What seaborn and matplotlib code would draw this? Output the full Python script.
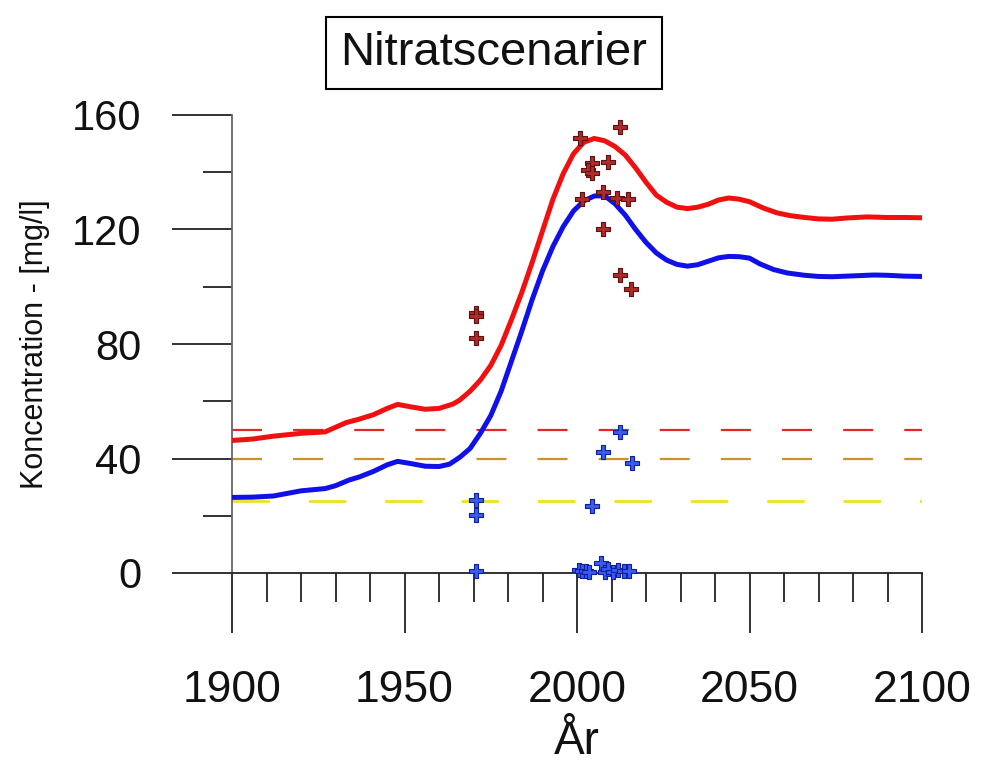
import matplotlib
matplotlib.use("Agg")
import matplotlib.pyplot as plt
import seaborn as sns
import pandas as pd

# ---------------- data ----------------
title_text = "Nitratscenarier"
x_label = "År"
y_label = "Koncentration - [mg/l]"

x_major = [1900, 1950, 2000, 2050, 2100]
x_minor = list(range(1900, 2101, 10))
y_major = [0, 40, 80, 120, 160]
y_minor = [20, 60, 100, 140]

red_years = [1900, 1906, 1912, 1920, 1927, 1933, 1937, 1941, 1945, 1948, 1952, 1956,
             1960, 1964, 1966, 1969, 1972, 1975, 1978, 1981, 1984, 1987, 1990, 1993,
             1996, 1999, 2002, 2005, 2008, 2011, 2014, 2017, 2020, 2023, 2026, 2029,
             2032, 2035, 2038, 2041, 2044, 2047, 2050, 2054, 2058, 2062, 2066, 2070,
             2074, 2078, 2084, 2090, 2095, 2100]
red_values = [46.3, 46.8, 47.8, 48.8, 49.3, 52.5, 53.8, 55.3, 57.5, 58.9, 58.0, 57.2,
              57.5, 59.0, 60.4, 63.5, 67.4, 72.5, 79.5, 88.5, 98.0, 108.5, 119.5, 130.5,
              139.5, 146.5, 150.5, 151.8, 151.0, 149.0, 146.0, 141.5, 136.5, 132.0, 129.5, 127.8,
              127.3, 127.8, 128.8, 130.3, 131.0, 130.6, 129.7, 127.5, 125.8, 124.8, 124.2, 123.7,
              123.6, 124.0, 124.4, 124.2, 124.2, 124.1]

blue_years = [1900, 1906, 1912, 1916, 1920, 1927, 1930, 1934, 1937, 1941, 1945, 1948,
              1952, 1956, 1960, 1963, 1966, 1969, 1972, 1975, 1978, 1981, 1984, 1987,
              1990, 1993, 1996, 1999, 2002, 2005, 2008, 2011, 2014, 2017, 2020, 2023,
              2026, 2029, 2032, 2035, 2038, 2041, 2044, 2047, 2050, 2053, 2057, 2061,
              2066, 2070, 2074, 2080, 2086, 2090, 2095, 2100]
blue_values = [26.4, 26.5, 26.9, 27.8, 28.7, 29.5, 30.5, 32.5, 33.6, 35.5, 37.8, 39.0,
               38.2, 37.3, 37.2, 38.0, 40.4, 43.5, 48.8, 55.0, 63.5, 74.0, 84.5, 95.5,
               105.5, 114.0, 121.0, 126.5, 130.0, 131.7, 131.8, 129.0, 125.0, 120.0, 115.5, 111.8,
               109.3, 107.8, 107.2, 107.7, 108.9, 110.1, 110.6, 110.5, 110.0, 108.0, 106.0, 104.8,
               104.0, 103.6, 103.5, 103.8, 104.1, 104.0, 103.7, 103.6]

red_obs_years = [1970.7, 1970.7, 1970.7, 2000.9, 2012.5, 2004.3, 2009.1, 2003.3, 2004.3,
                 2001.4, 2007.6, 2011.5, 2014.9, 2007.4, 2012.5, 2015.7]
red_obs_values = [91.0, 89.8, 82.0, 151.8, 155.7, 143.3, 143.7, 140.8, 139.9,
                  130.5, 133.2, 130.9, 130.5, 120.1, 104.1, 99.1]

blue_obs_years = [1970.7, 1970.7, 1970.7, 2012.5, 2007.5, 2016.0, 2004.3,
                  2000.5, 2001.5, 2002.5, 2003.5, 2007.0, 2008.0, 2009.0, 2010.5,
                  2012.0, 2013.5, 2015.0]
blue_obs_values = [25.4, 20.2, 0.7, 49.4, 42.4, 38.6, 23.3,
                   1.0, 0.6, 0.8, 0.3, 3.5, 0.2, 1.5, 0.5,
                   1.2, 0.6, 0.8]

limit_years = [1900, 2100]
limit_red = [50, 50]
limit_orange = [40, 40]
limit_yellow = [25, 25]

# ---------------- style ----------------
sns.set_style("white")
plt.rcParams['font.family'] = ['Liberation Sans', 'DejaVu Sans']

fig = plt.figure(figsize=(9.83, 7.68), dpi=100)
ax = fig.add_axes([232/983, 1 - 573/768, 690/983, 458/768])
ax.set_facecolor("white")

dash = (0, (13.5, 14))
sns.lineplot(x=limit_years, y=limit_red, color="#E02828", lw=1.6, linestyle=dash, ax=ax, zorder=2)
sns.lineplot(x=limit_years, y=limit_orange, color="#C8922E", lw=1.6, linestyle=dash, ax=ax, zorder=2)
sns.lineplot(x=limit_years, y=limit_yellow, color="#F0E020", lw=2.0, linestyle=dash, ax=ax, zorder=2)

sns.lineplot(x=red_years, y=red_values, color="#F01010", lw=3.6, ax=ax, zorder=3)
sns.lineplot(x=blue_years, y=blue_values, color="#1010E8", lw=3.6, ax=ax, zorder=3)

sns.scatterplot(x=red_obs_years, y=red_obs_values, marker="P", s=110, color="#B02A2A",
                edgecolor="#5A1212", linewidth=0.8, ax=ax, zorder=5, clip_on=False)
sns.scatterplot(x=blue_obs_years, y=blue_obs_values, marker="P", s=110, color="#3A5AF0",
                edgecolor="#10209A", linewidth=0.8, ax=ax, zorder=5, clip_on=False)

ax.set_xlim(1900, 2100)
ax.set_ylim(0, 160)

ax.set_xticks(x_major)
ax.set_xticks(x_minor, minor=True)
ax.set_yticks(y_major)
ax.set_yticks(y_minor, minor=True)

for side in ["top", "right"]:
    ax.spines[side].set_visible(False)
ax.spines["left"].set_color("#666666")
ax.spines["left"].set_linewidth(1.3)
ax.spines["bottom"].set_color("#222222")
ax.spines["bottom"].set_linewidth(1.3)

ax.tick_params(axis="x", which="major", bottom=True, top=False, direction="out", length=43,
               width=1.3, color="#222222", pad=27, labelsize=32, labelcolor="#111111")
ax.tick_params(axis="x", which="minor", bottom=True, top=False, direction="out", length=21,
               width=1.3, color="#222222")
ax.tick_params(axis="y", which="major", left=True, right=False, direction="out", length=43,
               width=1.3, color="#222222", pad=22, labelsize=30, labelcolor="#111111")
ax.tick_params(axis="y", which="minor", left=True, right=False, direction="out", length=21,
               width=1.3, color="#222222")

ax.set_xlabel(x_label, fontsize=33, color="#111111")
ax.xaxis.set_label_coords(0.5, -0.322)
ax.set_ylabel(y_label, fontsize=22, color="#111111")
ax.yaxis.set_label_coords(-0.264, 0.5)

fig.text(494/983, 1 - 53/768, title_text, fontsize=34, ha="center", va="center",
         color="#111111",
         bbox=dict(boxstyle="square,pad=0.3", fc="white", ec="black", lw=1.5))

fig.savefig("out.png", dpi=100, facecolor="white")
